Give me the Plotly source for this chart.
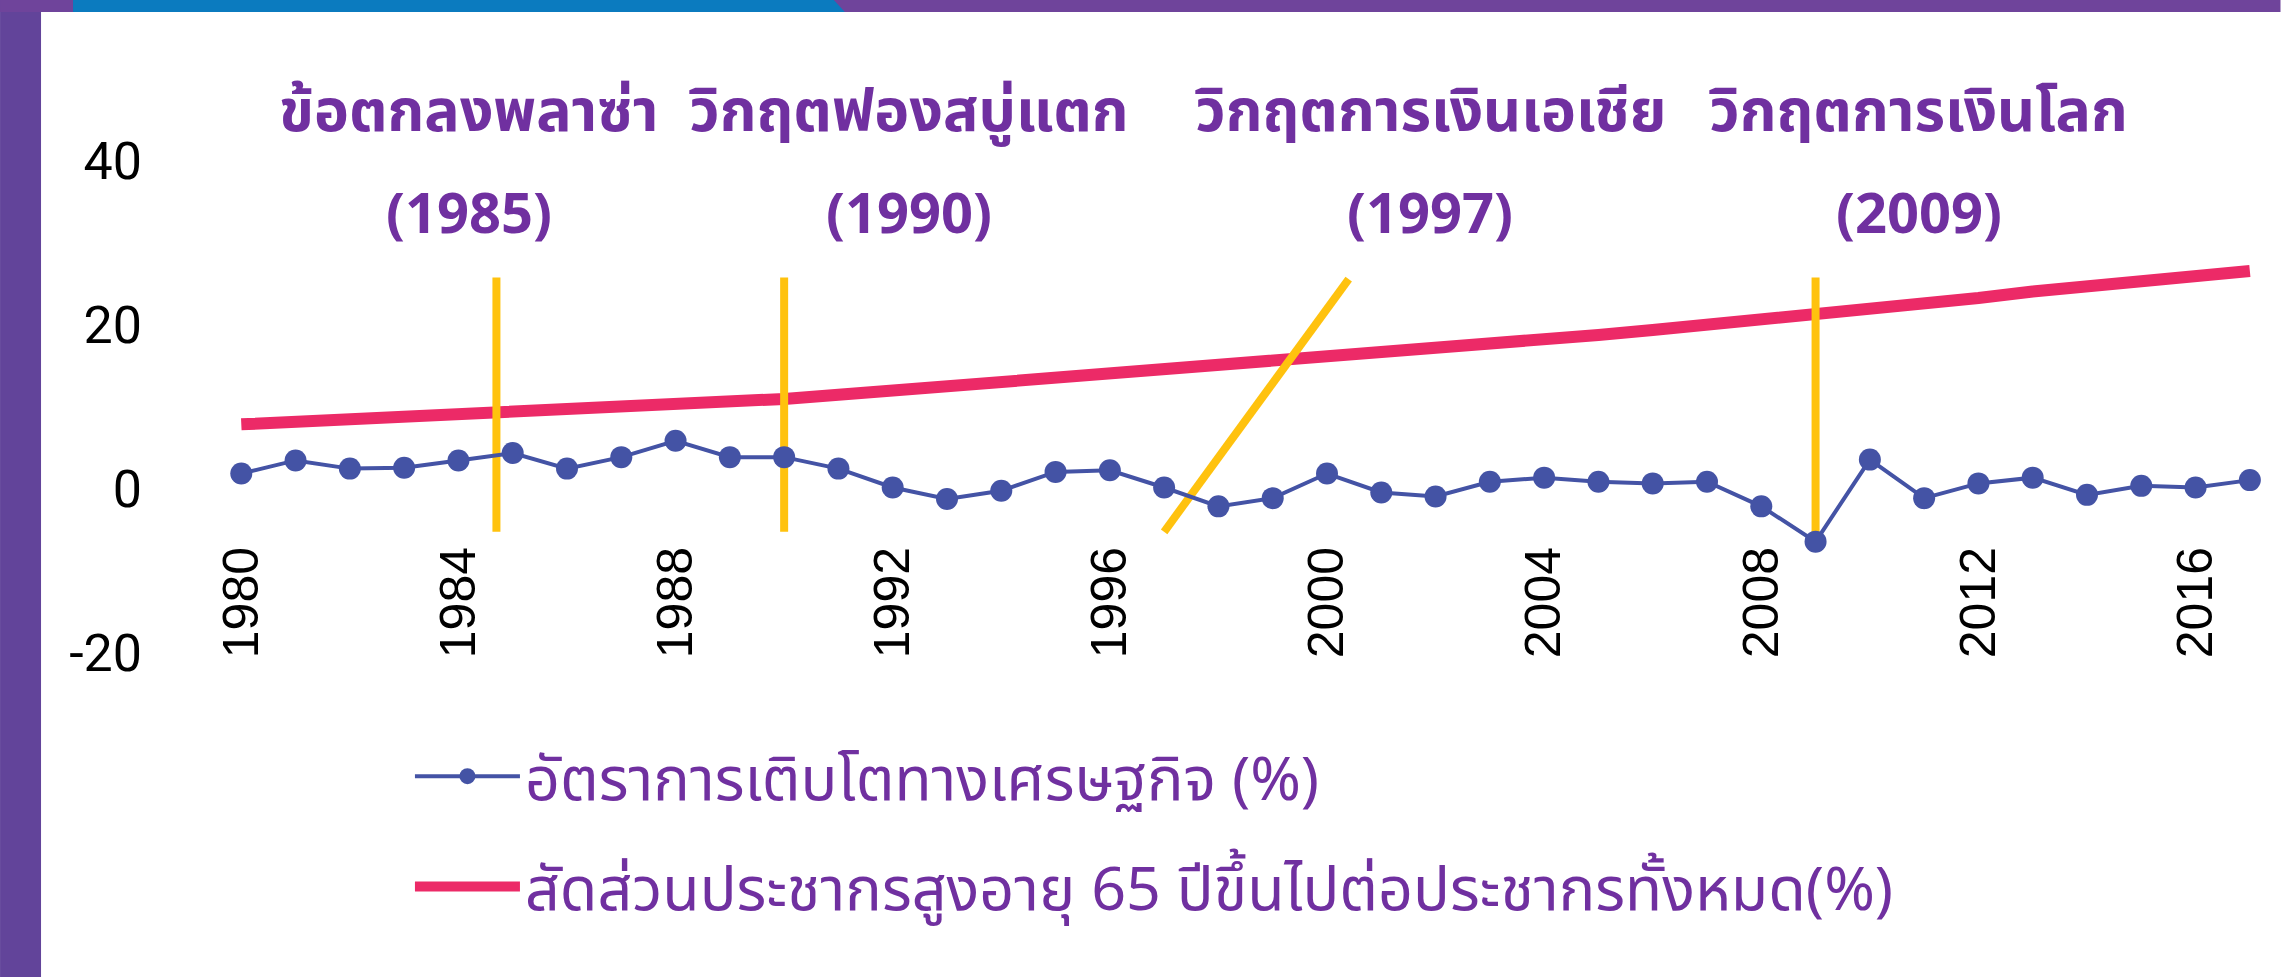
import plotly.graph_objects as go

years = list(range(1980, 2018))
gdp_growth = [1.9, 3.5, 2.5, 2.6, 3.5, 4.4, 2.5, 3.9, 5.9, 3.9, 3.9, 2.5, 0.2, -1.2, -0.2, 2.1, 2.3, 0.2, -2.1, -1.1,
              1.9, -0.4, -0.9, 0.9, 1.4, 0.9, 0.7, 0.9, -2.1, -6.4, 3.6, -1.1, 0.7, 1.4, -0.7, 0.4, 0.2, 1.1]
elderly_share = [7.9, 8.2, 8.5, 8.8, 8.9, 9.3, 9.6, 9.9, 10.2, 10.6, 11.0, 11.5, 12.0, 12.5, 13.0, 13.5, 14.0, 14.6,
                 15.1, 15.6, 16.2, 16.8, 17.3, 17.8, 18.3, 18.8, 19.4, 20.0, 20.6, 21.3, 21.9, 22.5, 23.3, 24.1,
                 24.8, 25.5, 26.1, 26.6]

gdp_name = "อัตราการเติบโตทางเศรษฐกิจ (%)"
elderly_name = "สัดส่วนประชากรสูงอายุ 65 ปีขึ้นไปต่อประชากรทั้งหมด(%)"

event_names = ["ข้อตกลงพลาซ่า", "วิกฤตฟองสบู่แตก", "วิกฤตการเงินเอเชีย", "วิกฤตการเงินโลก"]
event_years_text = ["(1985)", "(1990)", "(1997)", "(2009)"]
event_label_x = [1984.2, 1992.3, 2001.9, 2010.9]
event_x0 = [1984.7, 1990.0, 1997.0, 2009.0]
event_x1 = [1984.7, 1990.0, 2000.4, 2009.0]
event_y0 = [-5.2, -5.2, -5.2, -6.4]
event_y1 = [25.8, 25.8, 25.6, 25.8]

x_ticks = list(range(1980, 2017, 4))
y_ticks = [-20, 0, 20, 40]

PURPLE_TXT = "#7030a0"
BLUE = "#4453a5"
PINK = "#ec2a67"
YELLOW = "#ffc20e"
THAI_FONT = "Noto Sans Thai, Sarabun, Loma, Garuda, DejaVu Sans Condensed, Noto Sans, sans-serif"

W, H = 2281, 977
L, T = 187, 120
R_PX = 2277.5
B_PX = 686.0
PW = R_PX - L
PH = B_PX - T


def px_x(px):
    return (px - L) / PW


def px_y(py):
    return (B_PX - py) / PH


fig = go.Figure()

fig.add_trace(go.Scatter(
    x=years, y=elderly_share, mode="lines", name=elderly_name,
    line=dict(color=PINK, width=12), legendrank=2, legendgroup="b"))

for i in range(len(event_x0)):
    fig.add_trace(go.Scatter(
        x=[event_x0[i], event_x1[i]], y=[event_y0[i], event_y1[i]], mode="lines",
        line=dict(color=YELLOW, width=8), showlegend=False, hoverinfo="skip"))

fig.add_trace(go.Scatter(
    x=years, y=gdp_growth, mode="lines+markers", name=gdp_name,
    line=dict(color=BLUE, width=4), marker=dict(color=BLUE, size=22),
    legendrank=1, legendgroup="a"))

for i in range(len(event_names)):
    fig.add_annotation(x=event_label_x[i], xref="x", y=px_y(113), yref="paper",
                       text="<b>%s</b>" % event_names[i], showarrow=False,
                       font=dict(family=THAI_FONT, size=59, color=PURPLE_TXT),
                       xanchor="center", yanchor="middle")
    fig.add_annotation(x=event_label_x[i], xref="x", y=px_y(216), yref="paper",
                       text="<b>%s</b>" % event_years_text[i], showarrow=False,
                       font=dict(family=THAI_FONT, size=56, color=PURPLE_TXT),
                       xanchor="center", yanchor="middle")

# frame decoration
shapes = [
    dict(type="rect", xref="paper", yref="paper", x0=px_x(0), x1=px_x(41), y0=px_y(977), y1=px_y(0),
         fillcolor="#62449a", line=dict(width=0), layer="below"),
    dict(type="rect", xref="paper", yref="paper", x0=px_x(0), x1=px_x(W), y0=px_y(12), y1=px_y(0),
         fillcolor="#6f449b", line=dict(width=0), layer="below"),
    dict(type="path", xref="paper", yref="paper",
         path="M %f,%f L %f,%f L %f,%f L %f,%f Z" % (px_x(73), px_y(0), px_x(834), px_y(0),
                                                     px_x(845), px_y(12), px_x(73), px_y(12)),
         fillcolor="#0b7bbf", line=dict(width=0), layer="below"),
]

fig.update_layout(
    width=W, height=H, autosize=False,
    margin=dict(l=L, r=W - R_PX, t=T, b=H - B_PX, pad=0),
    paper_bgcolor="white", plot_bgcolor="white",
    shapes=shapes,
    showlegend=True,
    legend=dict(x=px_x(410), y=px_y(730), xanchor="left", yanchor="top",
                font=dict(family=THAI_FONT, size=61, color=PURPLE_TXT),
                tracegroupgap=28, bgcolor="rgba(0,0,0,0)", itemsizing="trace",
                itemwidth=105),
    xaxis=dict(range=[1979, 2017.5], tickvals=x_ticks, ticktext=[str(v) for v in x_ticks],
               tickangle=-90, anchor="free", position=px_y(536),
               showgrid=False, zeroline=False, showline=False, ticks="",
               tickfont=dict(family="Liberation Sans, Arial", size=50, color="black")),
    yaxis=dict(range=[-24, 45], tickvals=y_ticks, ticktext=[str(v) for v in y_ticks],
               showgrid=False, zeroline=False, showline=False, ticks="",
               ticklabelstandoff=44,
               tickfont=dict(family="Roboto, DejaVu Sans", size=52, color="black")),
    hovermode=False,
)

fig.write_html("out.html", config={"displayModeBar": False},
               post_script="document.body.style.margin='0';document.body.style.overflow='hidden';")
